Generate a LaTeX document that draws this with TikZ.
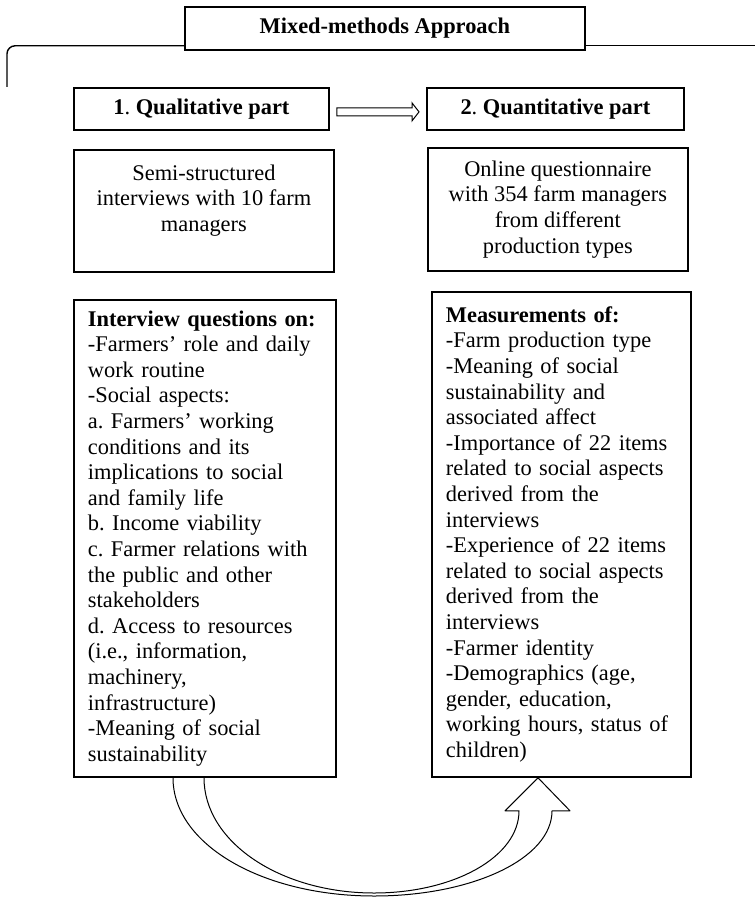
\documentclass[tikz,border=0pt]{standalone}
\usepackage{fontspec}
\setmainfont{Liberation Serif}
\usetikzlibrary{calc}

\begin{document}
\begin{tikzpicture}[
	x=0.5pt,y=-0.5pt,
	box/.style={rectangle,draw,line width=0.9pt,anchor=north west,inner sep=0pt,
		font=\fontsize{11.2}{12.8}\selectfont\frenchspacing},
	centrebox/.style={box,align=center},
	listbox/.style={box,align=left,text width=#1,inner xsep=7pt},
	thinline/.style={line width=0.5pt}
]
	\useasboundingbox (0,0) rectangle (754,903);

	% header and bracket
	\node[centrebox,minimum width=200pt,minimum height=21.5pt] (mixed) at (184,6) {\textbf{Mixed-methods Approach}};
	\draw[line width=0.7pt,rounded corners=4pt] ($(mixed.south west)+(0,-5)$) -| (7,87);
	\draw[line width=0.7pt] ($(mixed.south east)+(0,-5)$) -- ++(180,0);

	% the two parts
	\node[centrebox,minimum width=127.5pt,minimum height=21pt] (qual) at (73,87) {\textbf{1}. \textbf{Qualitative part}};
	\node[centrebox,minimum width=128.5pt,minimum height=21pt] (quant) at (426,87) {\textbf{2}. \textbf{Quantitative part}};
	\draw[thinline] ($(qual.east)+(7,-1)$) -- ($(quant.west)+(-14,-1)$) -- ($(quant.west)+(-14,-6)$)
		-- ($(quant.west)+(-7,3)$) -- ($(quant.west)+(-14,12)$) -- ($(quant.west)+(-14,7)$)
		-- ($(qual.east)+(7,7)$) -- cycle;

	% methods
	\node[centrebox,minimum width=130pt,minimum height=61pt] (semi) at (73,149) {Semi-structured\\interviews with 10 farm\\managers\rule[-13pt]{0pt}{13pt}};
	\node[centrebox,minimum width=130pt,minimum height=61.5pt] (online) at (427,147) {Online questionnaire\\with 354 farm managers\\from different\\production types};

	% contents
	\node[listbox=117pt,minimum height=238.5pt] (interview) at (73,299) {\textbf{Interview questions on:}\\
		-Farmers' role and daily\\
		work routine\\
		-Social aspects:\\
		a. Farmers' working\\
		conditions and its\\
		implications to social\\
		and family life\\
		b. Income viability\\
		c. Farmer relations with\\
		the public and other\\
		stakeholders\\
		d. Access to resources\\
		(i.e., information,\\
		machinery,\\
		infrastructure)\\
		-Meaning of social\\
		sustainability};
	\node[listbox=115.5pt,minimum height=242.5pt] (measure) at (431,291) {\textbf{Measurements of:}\\
		-Farm production type\\
		-Meaning of social\\
		sustainability and\\
		associated affect\\
		-Importance of 22 items\\
		related to social aspects\\
		derived from the\\
		interviews\\
		-Experience of 22 items\\
		related to social aspects\\
		derived from the\\
		interviews\\
		-Farmer identity\\
		-Demographics (age,\\
		gender, education,\\
		working hours, status of\\
		children)};

	% curved arrow back
	\coordinate (outA) at ($(interview.south west)+(100,0)$);
	\coordinate (inA) at ($(interview.south west)+(131,0)$);
	\coordinate (tip) at ($(measure.south west)+(107,0)$);
	\coordinate (outB) at ($(measure.south west)+(121,33)$);
	\coordinate (inB) at ($(measure.south west)+(88,33)$);
	\draw[thinline,line join=round] (outA) .. controls ($(outA)+(0,67)$) and (263,896) .. (374,896)
		.. controls (472,896) and ($(outB)+(0,48)$) .. (outB)
		-- ($(outB)+(18,0)$) -- (tip) -- ($(inB)+(-14,0)$) -- (inB)
		.. controls ($(inB)+(0,46)$) and (454,893) .. (374,893)
		.. controls (280,893) and ($(inA)+(0,64)$) .. (inA);
\end{tikzpicture}
\end{document}
